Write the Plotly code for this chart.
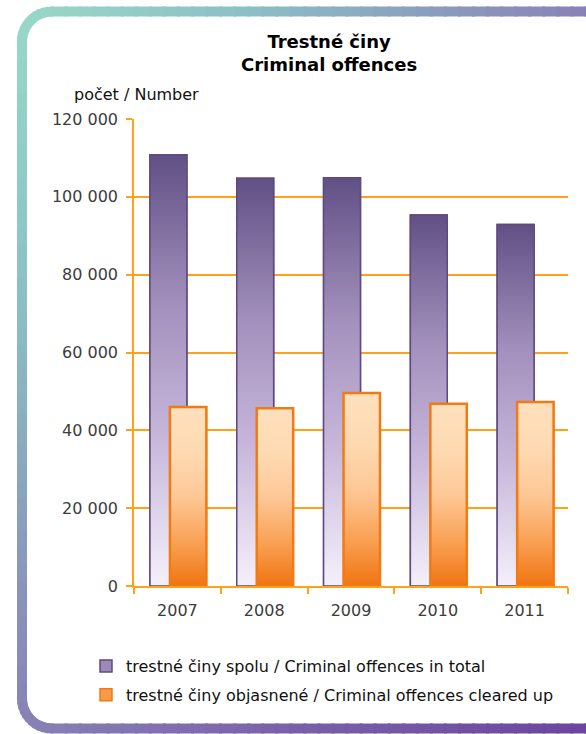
import plotly.graph_objects as go
import numpy as np

years = ["2007", "2008", "2009", "2010", "2011"]
total = [110800, 104800, 104900, 95300, 92900]
cleared = [46000, 45700, 49600, 46800, 47300]
y_ticks = [0, 20000, 40000, 60000, 80000, 100000, 120000]
y_ticktext = ["0", "20 000", "40 000", "60 000", "80 000", "100 000", "120 000"]

name_total = "trestné činy spolu / Criminal offences in total"
name_cleared = "trestné činy objasnené / Criminal offences cleared up"

W, H = 586, 734
L, R, T, B = 134, 568, 119, 586
FONT = "DejaVu Sans"
TXT = "#3c3c3c"
ORANGE_GRID = "#ffa21a"

P_OFF, P_W = -0.316, 0.425
O_OFF, O_W = -0.086, 0.42
P_LINE, O_LINE = "#5e4a80", "#f27a14"
P_SCALE = [[0, "#f4f0fa"], [0.35, "#c6b6da"], [0.65, "#a390bd"], [1, "#615085"]]
O_SCALE = [[0, "#f07412"], [0.25, "#f9a256"], [0.5, "#fdc897"], [0.75, "#fedab2"], [1, "#fee0bd"]]

xs = list(range(len(years)))
fig = go.Figure()

fig.add_trace(go.Bar(x=xs, y=total, offset=P_OFF, width=P_W, name=name_total, legendgroup="a",
                     marker=dict(color="#9d89b8", line=dict(color=P_LINE, width=1.5))))
fig.add_trace(go.Bar(x=xs, y=cleared, offset=O_OFF, width=O_W, name=name_cleared, legendgroup="b",
                     marker=dict(color="#f79a4a", line=dict(color=O_LINE, width=1.5))))

def add_grad(vals, off, w, scale, lc, lw):
    for i, v in enumerate(vals):
        x0, x1 = i + off, i + off + w
        fig.add_trace(go.Scatter(x=[x0, x0, x1, x1, x0], y=[0, v, v, 0, 0], mode="lines",
                                 fill="toself", fillgradient=dict(type="vertical", colorscale=scale),
                                 line=dict(color=lc, width=lw), showlegend=False, hoverinfo="skip"))

add_grad(total, P_OFF, P_W, P_SCALE, P_LINE, 1.5)
add_grad(cleared, O_OFF, O_W, O_SCALE, O_LINE, 2.5)

pw, ph = R - L, B - T
def px(x):
    return (x - L) / pw
def py(y):
    return (B - y) / ph

def hexrgb(h):
    h = h.lstrip("#")
    return np.array([int(h[i:i+2], 16) for i in (0, 2, 4)], float)
stops = [(0, "#9bdcc8"), (0.22, "#8cc0c6"), (0.48, "#8a88b8"), (0.75, "#7a60aa"), (1, "#6c46a0")]
def col(t):
    for (t0, c0), (t1, c1) in zip(stops[:-1], stops[1:]):
        if t <= t1:
            f = (t - t0) / (t1 - t0)
            c = hexrgb(c0) * (1 - f) + hexrgb(c1) * f
            return "rgb(%d,%d,%d)" % tuple(c)
    return stops[-1][1]

fl, ft, fb, fr, rad = 22, 11.5, 728.5, 600, 30
pts = []
for y in np.linspace(fb - rad, ft + rad, 40):
    pts.append((fl, y))
for a in np.linspace(np.pi, 1.5 * np.pi, 12)[1:]:
    pts.append((fl + rad + rad * np.cos(a), ft + rad + rad * np.sin(a)))
for x in np.linspace(fl + rad, fr, 40)[1:]:
    pts.append((x, ft))
pts_b = []
for a in np.linspace(np.pi, 0.5 * np.pi, 12):
    pts_b.append((fl + rad + rad * np.cos(a), fb - rad + rad * np.sin(a)))
for x in np.linspace(fl + rad, fr, 40)[1:]:
    pts_b.append((x, fb))
shapes = []
for seq in (pts, pts_b):
    for (xa, ya), (xb, yb) in zip(seq[:-1], seq[1:]):
        t = 0.5 * (((xa + xb) / 2) / W + ((ya + yb) / 2) / H)
        dx, dy = xb - xa, yb - ya
        n = max(np.hypot(dx, dy), 1e-6)
        ex, ey = dx / n * 1.5, dy / n * 1.5
        shapes.append(dict(type="path", xref="paper", yref="paper",
                           path="M %f,%f L %f,%f" % (px(xa - ex), py(ya - ey), px(xb + ex), py(yb + ey)),
                           line=dict(color=col(t), width=10), layer="above"))

fig.update_layout(
    width=W, height=H,
    margin=dict(l=L, r=W - R, t=T, b=H - B, pad=0),
    paper_bgcolor="white", plot_bgcolor="white",
    barmode="overlay", showlegend=True,
    font=dict(family=FONT, color=TXT, size=16),
    shapes=shapes,
    legend=dict(x=px(86), y=py(649), xanchor="left", yanchor="top",
                font=dict(family=FONT, size=16, color="#111111"),
                itemwidth=30, tracegroupgap=5, traceorder="grouped", bgcolor="rgba(0,0,0,0)"),
    annotations=[
        dict(text="<b>Trestné činy<br>Criminal offences</b>", x=px(329), y=py(53), xref="paper", yref="paper",
             xanchor="center", yanchor="middle", showarrow=False,
             font=dict(family=FONT, size=18, color="#000000")),
        dict(text="počet / Number", x=px(72), y=py(94), xref="paper", yref="paper",
             xanchor="left", yanchor="middle", showarrow=False,
             font=dict(family=FONT, size=16, color="#111111")),
    ],
)
fig.update_xaxes(range=[-0.5, 4.5], tickvals=xs, ticktext=years, ticks="",
                 showgrid=False, zeroline=False, showline=True, linecolor=ORANGE_GRID, linewidth=1.5,
                 minor=dict(tickvals=[-0.5, 0.5, 1.5, 2.5, 3.5, 4.5], ticks="outside", ticklen=6,
                            tickcolor=ORANGE_GRID, tickwidth=1.5, showgrid=False),
                 ticklabelstandoff=9,
                 tickfont=dict(family=FONT, size=16, color=TXT), fixedrange=True)
fig.update_yaxes(range=[0, 120000], tickvals=y_ticks, ticktext=y_ticktext,
                 showgrid=True, gridcolor=ORANGE_GRID, gridwidth=1.5, zeroline=False,
                 showline=True, linecolor=ORANGE_GRID, linewidth=1.5,
                 ticks="outside", ticklen=6, tickcolor=ORANGE_GRID, tickwidth=1.5,
                 ticklabelstandoff=5,
                 tickfont=dict(family=FONT, size=16, color=TXT), fixedrange=True)

fig.write_html("out.html", config={"displayModeBar": False},
               post_script="document.body.style.margin='0';document.body.style.padding='0';")
